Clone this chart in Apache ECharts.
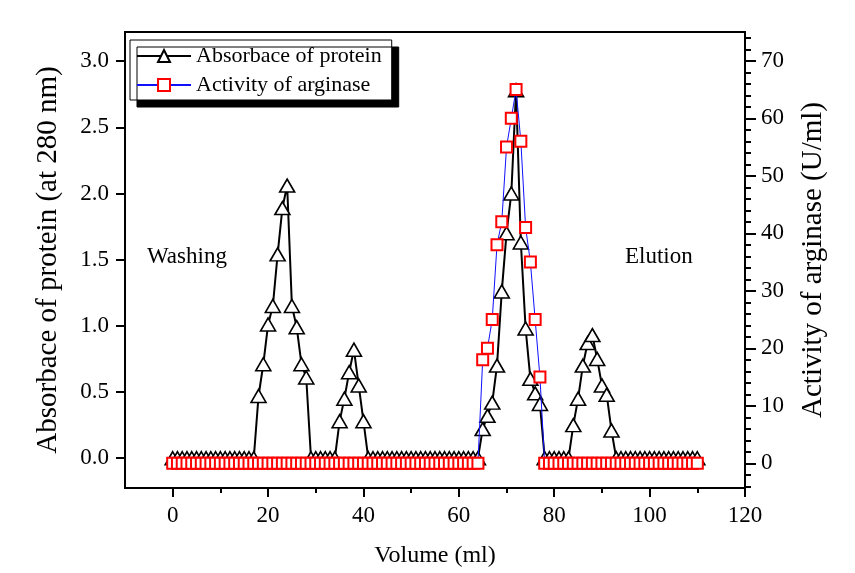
<!DOCTYPE html>
<html>
<head>
<meta charset="utf-8">
<script src="https://cdn.jsdelivr.net/npm/echarts@6/dist/echarts.min.js"></script>
<style>
  html, body { margin: 0; padding: 0; background: #fff; }
  #chart { width: 855px; height: 573px; }
</style>
</head>
<body>
<div id="chart"></div>
<script>
// Elution volume (ml), one fraction per ml
const volume = [
  0, 1, 2, 3, 4, 5, 6, 7, 8, 9, 10, 11, 12, 13, 14, 15, 16, 17, 18, 19,
  20, 21, 22, 23, 24, 25, 26, 27, 28, 29, 30, 31, 32, 33, 34, 35, 36, 37, 38, 39,
  40, 41, 42, 43, 44, 45, 46, 47, 48, 49, 50, 51, 52, 53, 54, 55, 56, 57, 58, 59,
  60, 61, 62, 63, 64, 65, 66, 67, 68, 69, 70, 71, 72, 73, 74, 75, 76, 77, 78, 79,
  80, 81, 82, 83, 84, 85, 86, 87, 88, 89, 90, 91, 92, 93, 94, 95, 96, 97, 98, 99,
  100, 101, 102, 103, 104, 105, 106, 107, 108, 109, 110
];

// Protein absorbance at 280 nm for each fraction
const absorbance = [
  0, 0, 0, 0, 0, 0, 0, 0, 0, 0, 0, 0, 0, 0, 0, 0, 0, 0,               // 0-17
  0.47, 0.71, 1.01, 1.15, 1.54, 1.89, 2.06, 1.15, 0.99, 0.71, 0.61,   // 18-28
  0, 0, 0, 0, 0, 0,                                                   // 29-34
  0.28, 0.45, 0.65, 0.82, 0.55, 0.28,                                 // 35-40
  0, 0, 0, 0, 0, 0, 0, 0, 0, 0, 0, 0, 0, 0, 0, 0, 0, 0, 0, 0, 0, 0, 0, 0, // 41-64
  0.22, 0.32, 0.42, 0.70, 1.26, 1.70, 2.00, 2.78, 1.63, 0.98, 0.60, 0.49, 0.41, // 65-77
  0, 0, 0, 0, 0, 0,                                                   // 78-83
  0.25, 0.45, 0.70, 0.87, 0.93, 0.75, 0.55, 0.48, 0.21,               // 84-92
  0, 0, 0, 0, 0, 0, 0, 0, 0, 0, 0, 0, 0, 0, 0, 0, 0, 0                // 93-110
];

// Arginase activity (U/ml) for each fraction
const activity = [
  0, 0, 0, 0, 0, 0, 0, 0, 0, 0, 0, 0, 0, 0, 0, 0, 0, 0, 0, 0,         // 0-19
  0, 0, 0, 0, 0, 0, 0, 0, 0, 0, 0, 0, 0, 0, 0, 0, 0, 0, 0, 0,         // 20-39
  0, 0, 0, 0, 0, 0, 0, 0, 0, 0, 0, 0, 0, 0, 0, 0, 0, 0, 0, 0,         // 40-59
  0, 0, 0, 0, 0,                                                      // 60-64
  18, 20, 25, 38, 42, 55, 60, 65, 56, 41, 35, 25, 15,                 // 65-77
  0, 0, 0, 0, 0, 0, 0, 0, 0, 0, 0, 0, 0, 0, 0, 0, 0, 0, 0, 0,         // 78-97
  0, 0, 0, 0, 0, 0, 0, 0, 0, 0, 0, 0, 0                               // 98-110
];

// Tick positions
const volumeTicks = [0, 20, 40, 60, 80, 100, 120];
const volumeMinorTicks = [0, 10, 20, 30, 40, 50, 60, 70, 80, 90, 100, 110, 120];
const absorbanceTicks = [0, 0.5, 1.0, 1.5, 2.0, 2.5, 3.0];
const activityTicks = [0, 10, 20, 30, 40, 50, 60, 70];
const activityMinorTicks = [-4, -2, 0, 2, 4, 6, 8, 10, 12, 14, 16, 18, 20, 22, 24, 26, 28, 30,
  32, 34, 36, 38, 40, 42, 44, 46, 48, 50, 52, 54, 56, 58, 60, 62, 64, 66, 68, 70, 72, 74];

const FONT = "'Liberation Serif', 'Times New Roman', serif";

const absorbancePoints = volume.map((v, i) => [v, absorbance[i]]);
const activityPoints = volume.map((v, i) => [v, activity[i]]);

const chart = echarts.init(document.getElementById('chart'), null, { renderer: 'canvas' });

const blackLine = { show: true, onZero: false, lineStyle: { color: '#000', width: 2 } };
const noLine = { show: false, onZero: false };

chart.setOption({
  animation: false,
  backgroundColor: '#fff',
  textStyle: { fontFamily: FONT, color: '#000' },
  grid: {
    left: 125, right: 110, top: 32, bottom: 82,
    show: true, borderColor: '#000', borderWidth: 2, backgroundColor: 'transparent'
  },
  legend: {
    orient: 'vertical',
    left: 130, top: 40,
    backgroundColor: '#fff',
    borderColor: '#000', borderWidth: 1,
    shadowColor: '#000', shadowBlur: 0, shadowOffsetX: 7, shadowOffsetY: 7,
    padding: [5, 10, 4, 6],
    itemGap: 7,
    itemWidth: 54, itemHeight: 15,
    textStyle: { fontFamily: FONT, fontSize: 22, color: '#000' },
    data: ['Absorbace of protein', 'Activity of arginase']
  },
  xAxis: [
    {
      type: 'value', min: -10, max: 120, position: 'bottom',
      axisLine: blackLine,
      axisTick: { show: true, customValues: volumeTicks, length: 9, inside: false, lineStyle: { color: '#000', width: 2 } },
      axisLabel: { customValues: volumeTicks, fontSize: 23, margin: 16, color: '#000', fontFamily: FONT },
      splitLine: { show: false },
      name: 'Volume (ml)', nameLocation: 'middle', nameGap: 56,
      nameTextStyle: { fontSize: 24, fontFamily: FONT, color: '#000' }
    },
    {
      type: 'value', min: -10, max: 120, position: 'bottom',
      axisLine: noLine,
      axisTick: { show: true, customValues: volumeMinorTicks, length: 5, inside: false, lineStyle: { color: '#000', width: 2 } },
      axisLabel: { show: false },
      splitLine: { show: false }
    }
  ],
  yAxis: [
    {
      type: 'value', min: -0.225, max: 3.22, position: 'left',
      axisLine: blackLine,
      axisTick: { show: true, customValues: absorbanceTicks, length: 9, inside: false, lineStyle: { color: '#000', width: 2 } },
      axisLabel: {
        customValues: absorbanceTicks, fontSize: 23, margin: 16, color: '#000', fontFamily: FONT,
        formatter: v => v.toFixed(1)
      },
      splitLine: { show: false },
      name: 'Absorbace of protein (at 280 nm)', nameLocation: 'middle', nameGap: 62,
      nameTextStyle: { fontSize: 29, fontFamily: FONT, color: '#000' }
    },
    {
      type: 'value', min: -4.3, max: 75, position: 'right',
      axisLine: blackLine,
      axisTick: { show: true, customValues: activityTicks, length: 11, inside: false, lineStyle: { color: '#000', width: 2 } },
      axisLabel: { customValues: activityTicks, fontSize: 23, margin: 16, color: '#000', fontFamily: FONT },
      splitLine: { show: false },
      name: 'Activity of arginase (U/ml)', nameLocation: 'middle', nameGap: 54,
      nameTextStyle: { fontSize: 29, fontFamily: FONT, color: '#000' }
    },
    {
      type: 'value', min: -4.3, max: 75, position: 'right',
      axisLine: noLine,
      axisTick: { show: true, customValues: activityMinorTicks, length: 6, inside: false, lineStyle: { color: '#000', width: 2 } },
      axisLabel: { show: false },
      splitLine: { show: false }
    }
  ],
  graphic: [
    { type: 'text', left: 147, top: 245, style: { text: 'Washing', font: '23px ' + FONT, fill: '#000' } },
    { type: 'text', left: 625, top: 245, style: { text: 'Elution', font: '23px ' + FONT, fill: '#000' } }
  ],
  series: [
    {
      name: 'Absorbace of protein',
      type: 'line',
      xAxisIndex: 0, yAxisIndex: 0,
      data: absorbancePoints,
      symbol: 'triangle', symbolSize: [15, 13],
      showAllSymbol: true,
      lineStyle: { color: '#000', width: 2 },
      itemStyle: { color: '#fff', borderColor: '#000', borderWidth: 1.6 },
      z: 2
    },
    {
      name: 'Activity of arginase',
      type: 'line',
      xAxisIndex: 0, yAxisIndex: 1,
      data: activityPoints,
      symbol: 'rect', symbolSize: 11,
      showAllSymbol: true,
      lineStyle: { color: '#1010ff', width: 1 },
      itemStyle: { color: '#fff', borderColor: '#ff0000', borderWidth: 2 },
      z: 3
    }
  ]
});
</script>
</body>
</html>
